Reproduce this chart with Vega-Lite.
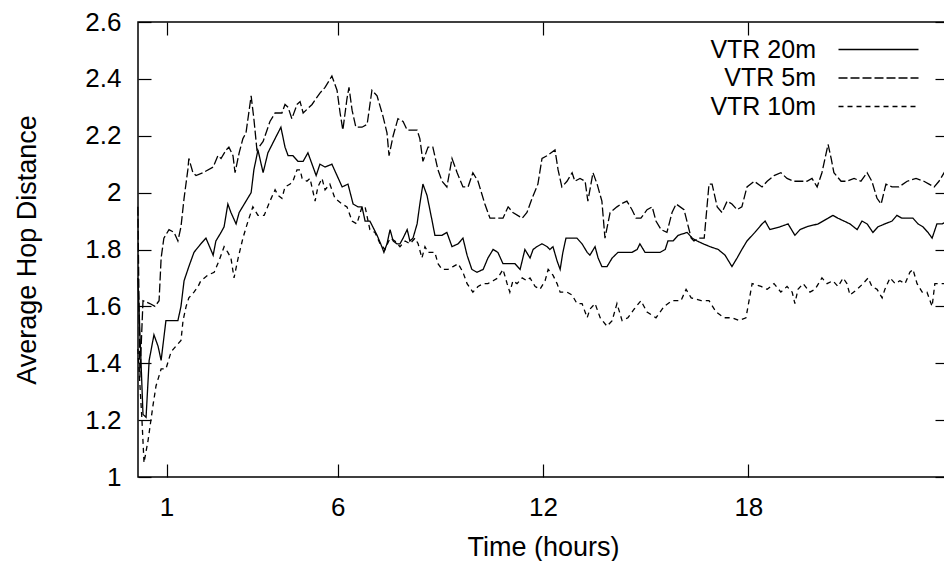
{
  "$schema": "https://vega.github.io/schema/vega-lite/v6.json",
  "autosize": "none",
  "width": 810,
  "height": 455,
  "padding": {"left": 138, "top": 22, "right": -4, "bottom": 84},
  "background": "white",
  "config": {
    "font": "Liberation Sans",
    "view": {"stroke": "#000", "strokeWidth": 1.5},
    "axis": {
      "domain": false, "grid": false, "tickColor": "#000", "tickWidth": 1.2, "tickSize": -13,
      "labelColor": "#000", "labelFontSize": 26, "labelFont": "Liberation Sans",
      "titleFont": "Liberation Sans", "titleFontSize": 27, "titleFontWeight": "normal", "titleColor": "#000"
    },
    "legend": {
      "orient": "none", "legendX": 700, "legendY": 15, "direction": "vertical", "columns": 1,
      "padding": 0, "rowPadding": 2.5,
      "labelAlign": "right", "labelOffset": -75, "symbolOffset": 28,
      "labelFontSize": 25, "labelFont": "Liberation Sans", "labelColor": "#000", "labelLimit": 300,
      "symbolType": "M-4,0H4", "symbolSize": 400, "symbolStrokeColor": "#000", "symbolStrokeWidth": 1.3, "symbolOpacity": 1, "symbolFillColor": "transparent"
    }
  },
  "data": {"values": [
    {"s":"VTR 5m","t":0.16,"v":1.95},{"s":"VTR 5m","t":0.22,"v":1.35},{"s":"VTR 5m","t":0.31,"v":1.62},{"s":"VTR 5m","t":0.51,"v":1.61},{"s":"VTR 5m","t":0.66,"v":1.60},{"s":"VTR 5m","t":0.78,"v":1.62},{"s":"VTR 5m","t":0.84,"v":1.77},{"s":"VTR 5m","t":0.92,"v":1.84},{"s":"VTR 5m","t":1.07,"v":1.87},{"s":"VTR 5m","t":1.22,"v":1.86},{"s":"VTR 5m","t":1.33,"v":1.83},{"s":"VTR 5m","t":1.42,"v":1.88},{"s":"VTR 5m","t":1.51,"v":1.98},{"s":"VTR 5m","t":1.62,"v":2.08},{"s":"VTR 5m","t":1.65,"v":2.12},{"s":"VTR 5m","t":1.77,"v":2.07},{"s":"VTR 5m","t":1.86,"v":2.06},{"s":"VTR 5m","t":2.06,"v":2.07},{"s":"VTR 5m","t":2.36,"v":2.09},{"s":"VTR 5m","t":2.50,"v":2.13},{"s":"VTR 5m","t":2.59,"v":2.12},{"s":"VTR 5m","t":2.74,"v":2.15},{"s":"VTR 5m","t":2.82,"v":2.16},{"s":"VTR 5m","t":2.94,"v":2.13},{"s":"VTR 5m","t":3.00,"v":2.07},{"s":"VTR 5m","t":3.12,"v":2.14},{"s":"VTR 5m","t":3.23,"v":2.19},{"s":"VTR 5m","t":3.32,"v":2.21},{"s":"VTR 5m","t":3.47,"v":2.34},{"s":"VTR 5m","t":3.55,"v":2.26},{"s":"VTR 5m","t":3.64,"v":2.15},{"s":"VTR 5m","t":3.82,"v":2.18},{"s":"VTR 5m","t":4.02,"v":2.25},{"s":"VTR 5m","t":4.17,"v":2.28},{"s":"VTR 5m","t":4.37,"v":2.28},{"s":"VTR 5m","t":4.46,"v":2.31},{"s":"VTR 5m","t":4.55,"v":2.30},{"s":"VTR 5m","t":4.66,"v":2.26},{"s":"VTR 5m","t":4.81,"v":2.31},{"s":"VTR 5m","t":4.90,"v":2.32},{"s":"VTR 5m","t":4.99,"v":2.28},{"s":"VTR 5m","t":5.25,"v":2.31},{"s":"VTR 5m","t":5.48,"v":2.35},{"s":"VTR 5m","t":5.63,"v":2.37},{"s":"VTR 5m","t":5.83,"v":2.41},{"s":"VTR 5m","t":5.98,"v":2.36},{"s":"VTR 5m","t":6.07,"v":2.28},{"s":"VTR 5m","t":6.15,"v":2.22},{"s":"VTR 5m","t":6.27,"v":2.33},{"s":"VTR 5m","t":6.33,"v":2.37},{"s":"VTR 5m","t":6.42,"v":2.29},{"s":"VTR 5m","t":6.53,"v":2.23},{"s":"VTR 5m","t":6.71,"v":2.23},{"s":"VTR 5m","t":6.86,"v":2.24},{"s":"VTR 5m","t":7.00,"v":2.36},{"s":"VTR 5m","t":7.15,"v":2.34},{"s":"VTR 5m","t":7.32,"v":2.27},{"s":"VTR 5m","t":7.44,"v":2.21},{"s":"VTR 5m","t":7.50,"v":2.13},{"s":"VTR 5m","t":7.62,"v":2.20},{"s":"VTR 5m","t":7.76,"v":2.26},{"s":"VTR 5m","t":7.91,"v":2.25},{"s":"VTR 5m","t":8.03,"v":2.22},{"s":"VTR 5m","t":8.32,"v":2.22},{"s":"VTR 5m","t":8.40,"v":2.19},{"s":"VTR 5m","t":8.49,"v":2.11},{"s":"VTR 5m","t":8.64,"v":2.16},{"s":"VTR 5m","t":8.78,"v":2.16},{"s":"VTR 5m","t":8.93,"v":2.08},{"s":"VTR 5m","t":9.05,"v":2.04},{"s":"VTR 5m","t":9.19,"v":2.02},{"s":"VTR 5m","t":9.34,"v":2.12},{"s":"VTR 5m","t":9.49,"v":2.07},{"s":"VTR 5m","t":9.66,"v":2.02},{"s":"VTR 5m","t":9.81,"v":2.02},{"s":"VTR 5m","t":9.95,"v":2.07},{"s":"VTR 5m","t":10.10,"v":2.04},{"s":"VTR 5m","t":10.30,"v":1.96},{"s":"VTR 5m","t":10.45,"v":1.91},{"s":"VTR 5m","t":10.66,"v":1.91},{"s":"VTR 5m","t":10.83,"v":1.91},{"s":"VTR 5m","t":10.98,"v":1.95},{"s":"VTR 5m","t":11.12,"v":1.93},{"s":"VTR 5m","t":11.39,"v":1.91},{"s":"VTR 5m","t":11.53,"v":1.93},{"s":"VTR 5m","t":11.68,"v":1.98},{"s":"VTR 5m","t":11.85,"v":2.03},{"s":"VTR 5m","t":11.97,"v":2.12},{"s":"VTR 5m","t":12.12,"v":2.13},{"s":"VTR 5m","t":12.35,"v":2.15},{"s":"VTR 5m","t":12.44,"v":2.08},{"s":"VTR 5m","t":12.55,"v":2.02},{"s":"VTR 5m","t":12.70,"v":2.04},{"s":"VTR 5m","t":12.85,"v":2.07},{"s":"VTR 5m","t":12.93,"v":2.04},{"s":"VTR 5m","t":13.08,"v":2.05},{"s":"VTR 5m","t":13.23,"v":2.04},{"s":"VTR 5m","t":13.31,"v":1.97},{"s":"VTR 5m","t":13.46,"v":2.07},{"s":"VTR 5m","t":13.58,"v":2.03},{"s":"VTR 5m","t":13.72,"v":1.97},{"s":"VTR 5m","t":13.81,"v":1.84},{"s":"VTR 5m","t":13.96,"v":1.93},{"s":"VTR 5m","t":14.16,"v":1.95},{"s":"VTR 5m","t":14.28,"v":1.96},{"s":"VTR 5m","t":14.45,"v":1.97},{"s":"VTR 5m","t":14.60,"v":1.94},{"s":"VTR 5m","t":14.72,"v":1.91},{"s":"VTR 5m","t":14.86,"v":1.91},{"s":"VTR 5m","t":15.04,"v":1.94},{"s":"VTR 5m","t":15.19,"v":1.95},{"s":"VTR 5m","t":15.30,"v":1.90},{"s":"VTR 5m","t":15.45,"v":1.87},{"s":"VTR 5m","t":15.62,"v":1.86},{"s":"VTR 5m","t":15.77,"v":1.93},{"s":"VTR 5m","t":15.89,"v":1.96},{"s":"VTR 5m","t":16.12,"v":1.94},{"s":"VTR 5m","t":16.33,"v":1.84},{"s":"VTR 5m","t":16.41,"v":1.83},{"s":"VTR 5m","t":16.56,"v":1.84},{"s":"VTR 5m","t":16.71,"v":1.84},{"s":"VTR 5m","t":16.85,"v":2.03},{"s":"VTR 5m","t":16.94,"v":2.03},{"s":"VTR 5m","t":17.09,"v":1.95},{"s":"VTR 5m","t":17.23,"v":1.93},{"s":"VTR 5m","t":17.38,"v":1.97},{"s":"VTR 5m","t":17.52,"v":1.96},{"s":"VTR 5m","t":17.67,"v":1.94},{"s":"VTR 5m","t":17.81,"v":1.95},{"s":"VTR 5m","t":17.96,"v":2.02},{"s":"VTR 5m","t":18.17,"v":2.04},{"s":"VTR 5m","t":18.40,"v":2.02},{"s":"VTR 5m","t":18.55,"v":2.04},{"s":"VTR 5m","t":18.75,"v":2.06},{"s":"VTR 5m","t":18.95,"v":2.07},{"s":"VTR 5m","t":19.13,"v":2.05},{"s":"VTR 5m","t":19.33,"v":2.04},{"s":"VTR 5m","t":19.54,"v":2.04},{"s":"VTR 5m","t":19.71,"v":2.04},{"s":"VTR 5m","t":19.86,"v":2.05},{"s":"VTR 5m","t":20.01,"v":2.02},{"s":"VTR 5m","t":20.15,"v":2.07},{"s":"VTR 5m","t":20.33,"v":2.17},{"s":"VTR 5m","t":20.42,"v":2.12},{"s":"VTR 5m","t":20.50,"v":2.07},{"s":"VTR 5m","t":20.71,"v":2.04},{"s":"VTR 5m","t":20.88,"v":2.04},{"s":"VTR 5m","t":21.09,"v":2.05},{"s":"VTR 5m","t":21.29,"v":2.04},{"s":"VTR 5m","t":21.47,"v":2.07},{"s":"VTR 5m","t":21.61,"v":2.04},{"s":"VTR 5m","t":21.76,"v":1.98},{"s":"VTR 5m","t":21.88,"v":1.96},{"s":"VTR 5m","t":22.02,"v":2.03},{"s":"VTR 5m","t":22.20,"v":2.02},{"s":"VTR 5m","t":22.40,"v":2.02},{"s":"VTR 5m","t":22.64,"v":2.04},{"s":"VTR 5m","t":22.90,"v":2.05},{"s":"VTR 5m","t":23.13,"v":2.04},{"s":"VTR 5m","t":23.28,"v":2.03},{"s":"VTR 5m","t":23.43,"v":2.02},{"s":"VTR 5m","t":23.57,"v":2.04},{"s":"VTR 5m","t":23.72,"v":2.07},{"s":"VTR 5m","t":23.83,"v":2.06},
    {"s":"VTR 20m","t":0.16,"v":1.70},{"s":"VTR 20m","t":0.31,"v":1.22},{"s":"VTR 20m","t":0.40,"v":1.21},{"s":"VTR 20m","t":0.49,"v":1.41},{"s":"VTR 20m","t":0.63,"v":1.50},{"s":"VTR 20m","t":0.75,"v":1.46},{"s":"VTR 20m","t":0.84,"v":1.41},{"s":"VTR 20m","t":0.98,"v":1.55},{"s":"VTR 20m","t":1.33,"v":1.55},{"s":"VTR 20m","t":1.42,"v":1.60},{"s":"VTR 20m","t":1.51,"v":1.69},{"s":"VTR 20m","t":1.65,"v":1.74},{"s":"VTR 20m","t":1.80,"v":1.79},{"s":"VTR 20m","t":2.00,"v":1.82},{"s":"VTR 20m","t":2.15,"v":1.84},{"s":"VTR 20m","t":2.36,"v":1.78},{"s":"VTR 20m","t":2.44,"v":1.83},{"s":"VTR 20m","t":2.59,"v":1.86},{"s":"VTR 20m","t":2.68,"v":1.88},{"s":"VTR 20m","t":2.79,"v":1.96},{"s":"VTR 20m","t":2.88,"v":1.93},{"s":"VTR 20m","t":3.03,"v":1.89},{"s":"VTR 20m","t":3.12,"v":1.93},{"s":"VTR 20m","t":3.32,"v":1.97},{"s":"VTR 20m","t":3.47,"v":2.00},{"s":"VTR 20m","t":3.55,"v":2.08},{"s":"VTR 20m","t":3.67,"v":2.15},{"s":"VTR 20m","t":3.82,"v":2.07},{"s":"VTR 20m","t":3.96,"v":2.14},{"s":"VTR 20m","t":4.17,"v":2.19},{"s":"VTR 20m","t":4.34,"v":2.23},{"s":"VTR 20m","t":4.46,"v":2.16},{"s":"VTR 20m","t":4.55,"v":2.13},{"s":"VTR 20m","t":4.69,"v":2.13},{"s":"VTR 20m","t":4.84,"v":2.11},{"s":"VTR 20m","t":4.99,"v":2.11},{"s":"VTR 20m","t":5.13,"v":2.14},{"s":"VTR 20m","t":5.25,"v":2.10},{"s":"VTR 20m","t":5.37,"v":2.06},{"s":"VTR 20m","t":5.48,"v":2.10},{"s":"VTR 20m","t":5.63,"v":2.09},{"s":"VTR 20m","t":5.83,"v":2.10},{"s":"VTR 20m","t":5.98,"v":2.06},{"s":"VTR 20m","t":6.13,"v":2.02},{"s":"VTR 20m","t":6.30,"v":2.03},{"s":"VTR 20m","t":6.45,"v":1.96},{"s":"VTR 20m","t":6.59,"v":1.95},{"s":"VTR 20m","t":6.71,"v":1.95},{"s":"VTR 20m","t":6.80,"v":1.90},{"s":"VTR 20m","t":6.94,"v":1.90},{"s":"VTR 20m","t":7.15,"v":1.85},{"s":"VTR 20m","t":7.29,"v":1.81},{"s":"VTR 20m","t":7.35,"v":1.79},{"s":"VTR 20m","t":7.44,"v":1.82},{"s":"VTR 20m","t":7.53,"v":1.87},{"s":"VTR 20m","t":7.62,"v":1.83},{"s":"VTR 20m","t":7.73,"v":1.82},{"s":"VTR 20m","t":7.82,"v":1.82},{"s":"VTR 20m","t":7.91,"v":1.84},{"s":"VTR 20m","t":8.03,"v":1.87},{"s":"VTR 20m","t":8.11,"v":1.83},{"s":"VTR 20m","t":8.20,"v":1.84},{"s":"VTR 20m","t":8.32,"v":1.89},{"s":"VTR 20m","t":8.40,"v":1.96},{"s":"VTR 20m","t":8.49,"v":2.03},{"s":"VTR 20m","t":8.61,"v":1.99},{"s":"VTR 20m","t":8.76,"v":1.90},{"s":"VTR 20m","t":8.84,"v":1.85},{"s":"VTR 20m","t":9.05,"v":1.85},{"s":"VTR 20m","t":9.19,"v":1.86},{"s":"VTR 20m","t":9.34,"v":1.81},{"s":"VTR 20m","t":9.52,"v":1.82},{"s":"VTR 20m","t":9.66,"v":1.84},{"s":"VTR 20m","t":9.78,"v":1.78},{"s":"VTR 20m","t":9.92,"v":1.73},{"s":"VTR 20m","t":10.07,"v":1.72},{"s":"VTR 20m","t":10.25,"v":1.73},{"s":"VTR 20m","t":10.39,"v":1.77},{"s":"VTR 20m","t":10.54,"v":1.80},{"s":"VTR 20m","t":10.68,"v":1.79},{"s":"VTR 20m","t":10.83,"v":1.75},{"s":"VTR 20m","t":11.18,"v":1.75},{"s":"VTR 20m","t":11.33,"v":1.73},{"s":"VTR 20m","t":11.47,"v":1.80},{"s":"VTR 20m","t":11.62,"v":1.77},{"s":"VTR 20m","t":11.71,"v":1.80},{"s":"VTR 20m","t":11.82,"v":1.81},{"s":"VTR 20m","t":11.97,"v":1.82},{"s":"VTR 20m","t":12.12,"v":1.81},{"s":"VTR 20m","t":12.20,"v":1.80},{"s":"VTR 20m","t":12.29,"v":1.81},{"s":"VTR 20m","t":12.41,"v":1.76},{"s":"VTR 20m","t":12.50,"v":1.73},{"s":"VTR 20m","t":12.58,"v":1.79},{"s":"VTR 20m","t":12.67,"v":1.84},{"s":"VTR 20m","t":12.99,"v":1.84},{"s":"VTR 20m","t":13.14,"v":1.82},{"s":"VTR 20m","t":13.29,"v":1.79},{"s":"VTR 20m","t":13.37,"v":1.78},{"s":"VTR 20m","t":13.52,"v":1.81},{"s":"VTR 20m","t":13.61,"v":1.77},{"s":"VTR 20m","t":13.72,"v":1.74},{"s":"VTR 20m","t":13.87,"v":1.74},{"s":"VTR 20m","t":14.02,"v":1.77},{"s":"VTR 20m","t":14.19,"v":1.79},{"s":"VTR 20m","t":14.60,"v":1.79},{"s":"VTR 20m","t":14.75,"v":1.80},{"s":"VTR 20m","t":14.83,"v":1.82},{"s":"VTR 20m","t":14.98,"v":1.79},{"s":"VTR 20m","t":15.42,"v":1.79},{"s":"VTR 20m","t":15.57,"v":1.80},{"s":"VTR 20m","t":15.65,"v":1.83},{"s":"VTR 20m","t":15.80,"v":1.83},{"s":"VTR 20m","t":15.95,"v":1.85},{"s":"VTR 20m","t":16.21,"v":1.86},{"s":"VTR 20m","t":16.36,"v":1.84},{"s":"VTR 20m","t":16.50,"v":1.83},{"s":"VTR 20m","t":16.68,"v":1.82},{"s":"VTR 20m","t":16.88,"v":1.81},{"s":"VTR 20m","t":17.12,"v":1.80},{"s":"VTR 20m","t":17.32,"v":1.78},{"s":"VTR 20m","t":17.52,"v":1.74},{"s":"VTR 20m","t":17.67,"v":1.77},{"s":"VTR 20m","t":17.81,"v":1.80},{"s":"VTR 20m","t":17.96,"v":1.83},{"s":"VTR 20m","t":18.19,"v":1.86},{"s":"VTR 20m","t":18.40,"v":1.89},{"s":"VTR 20m","t":18.49,"v":1.90},{"s":"VTR 20m","t":18.63,"v":1.87},{"s":"VTR 20m","t":18.93,"v":1.88},{"s":"VTR 20m","t":19.16,"v":1.89},{"s":"VTR 20m","t":19.36,"v":1.85},{"s":"VTR 20m","t":19.51,"v":1.87},{"s":"VTR 20m","t":19.71,"v":1.88},{"s":"VTR 20m","t":20.04,"v":1.89},{"s":"VTR 20m","t":20.33,"v":1.91},{"s":"VTR 20m","t":20.47,"v":1.92},{"s":"VTR 20m","t":20.62,"v":1.91},{"s":"VTR 20m","t":20.97,"v":1.89},{"s":"VTR 20m","t":21.18,"v":1.87},{"s":"VTR 20m","t":21.32,"v":1.90},{"s":"VTR 20m","t":21.47,"v":1.89},{"s":"VTR 20m","t":21.64,"v":1.86},{"s":"VTR 20m","t":21.79,"v":1.88},{"s":"VTR 20m","t":21.99,"v":1.89},{"s":"VTR 20m","t":22.20,"v":1.90},{"s":"VTR 20m","t":22.34,"v":1.92},{"s":"VTR 20m","t":22.49,"v":1.91},{"s":"VTR 20m","t":22.81,"v":1.91},{"s":"VTR 20m","t":22.96,"v":1.89},{"s":"VTR 20m","t":23.10,"v":1.88},{"s":"VTR 20m","t":23.25,"v":1.86},{"s":"VTR 20m","t":23.37,"v":1.84},{"s":"VTR 20m","t":23.51,"v":1.89},{"s":"VTR 20m","t":23.66,"v":1.89},{"s":"VTR 20m","t":23.83,"v":1.90},
    {"s":"VTR 10m","t":0.16,"v":1.45},{"s":"VTR 10m","t":0.28,"v":1.20},{"s":"VTR 10m","t":0.34,"v":1.05},{"s":"VTR 10m","t":0.46,"v":1.13},{"s":"VTR 10m","t":0.60,"v":1.25},{"s":"VTR 10m","t":0.69,"v":1.32},{"s":"VTR 10m","t":0.84,"v":1.38},{"s":"VTR 10m","t":0.98,"v":1.38},{"s":"VTR 10m","t":1.13,"v":1.44},{"s":"VTR 10m","t":1.27,"v":1.46},{"s":"VTR 10m","t":1.42,"v":1.48},{"s":"VTR 10m","t":1.48,"v":1.55},{"s":"VTR 10m","t":1.57,"v":1.60},{"s":"VTR 10m","t":1.65,"v":1.63},{"s":"VTR 10m","t":1.80,"v":1.65},{"s":"VTR 10m","t":1.92,"v":1.67},{"s":"VTR 10m","t":2.00,"v":1.69},{"s":"VTR 10m","t":2.21,"v":1.71},{"s":"VTR 10m","t":2.39,"v":1.72},{"s":"VTR 10m","t":2.53,"v":1.76},{"s":"VTR 10m","t":2.68,"v":1.81},{"s":"VTR 10m","t":2.79,"v":1.79},{"s":"VTR 10m","t":2.88,"v":1.77},{"s":"VTR 10m","t":2.97,"v":1.70},{"s":"VTR 10m","t":3.09,"v":1.77},{"s":"VTR 10m","t":3.23,"v":1.84},{"s":"VTR 10m","t":3.38,"v":1.90},{"s":"VTR 10m","t":3.52,"v":1.95},{"s":"VTR 10m","t":3.67,"v":1.92},{"s":"VTR 10m","t":3.85,"v":1.92},{"s":"VTR 10m","t":4.02,"v":1.97},{"s":"VTR 10m","t":4.17,"v":2.01},{"s":"VTR 10m","t":4.26,"v":1.99},{"s":"VTR 10m","t":4.37,"v":1.98},{"s":"VTR 10m","t":4.46,"v":2.02},{"s":"VTR 10m","t":4.61,"v":2.03},{"s":"VTR 10m","t":4.69,"v":2.04},{"s":"VTR 10m","t":4.81,"v":2.08},{"s":"VTR 10m","t":4.90,"v":2.08},{"s":"VTR 10m","t":4.96,"v":2.05},{"s":"VTR 10m","t":5.10,"v":2.04},{"s":"VTR 10m","t":5.19,"v":2.05},{"s":"VTR 10m","t":5.34,"v":1.97},{"s":"VTR 10m","t":5.42,"v":2.02},{"s":"VTR 10m","t":5.54,"v":2.05},{"s":"VTR 10m","t":5.63,"v":2.01},{"s":"VTR 10m","t":5.77,"v":2.03},{"s":"VTR 10m","t":5.92,"v":1.98},{"s":"VTR 10m","t":6.13,"v":1.96},{"s":"VTR 10m","t":6.27,"v":1.95},{"s":"VTR 10m","t":6.42,"v":1.90},{"s":"VTR 10m","t":6.56,"v":1.89},{"s":"VTR 10m","t":6.71,"v":1.95},{"s":"VTR 10m","t":6.80,"v":1.95},{"s":"VTR 10m","t":6.94,"v":1.87},{"s":"VTR 10m","t":7.09,"v":1.86},{"s":"VTR 10m","t":7.24,"v":1.82},{"s":"VTR 10m","t":7.38,"v":1.80},{"s":"VTR 10m","t":7.53,"v":1.84},{"s":"VTR 10m","t":7.67,"v":1.83},{"s":"VTR 10m","t":7.82,"v":1.81},{"s":"VTR 10m","t":7.97,"v":1.83},{"s":"VTR 10m","t":8.11,"v":1.82},{"s":"VTR 10m","t":8.26,"v":1.84},{"s":"VTR 10m","t":8.35,"v":1.82},{"s":"VTR 10m","t":8.46,"v":1.77},{"s":"VTR 10m","t":8.55,"v":1.81},{"s":"VTR 10m","t":8.64,"v":1.79},{"s":"VTR 10m","t":8.84,"v":1.79},{"s":"VTR 10m","t":8.93,"v":1.75},{"s":"VTR 10m","t":9.05,"v":1.73},{"s":"VTR 10m","t":9.22,"v":1.73},{"s":"VTR 10m","t":9.37,"v":1.74},{"s":"VTR 10m","t":9.52,"v":1.75},{"s":"VTR 10m","t":9.66,"v":1.72},{"s":"VTR 10m","t":9.78,"v":1.68},{"s":"VTR 10m","t":9.95,"v":1.65},{"s":"VTR 10m","t":10.10,"v":1.67},{"s":"VTR 10m","t":10.25,"v":1.68},{"s":"VTR 10m","t":10.39,"v":1.68},{"s":"VTR 10m","t":10.54,"v":1.69},{"s":"VTR 10m","t":10.68,"v":1.70},{"s":"VTR 10m","t":10.83,"v":1.73},{"s":"VTR 10m","t":10.95,"v":1.68},{"s":"VTR 10m","t":11.03,"v":1.65},{"s":"VTR 10m","t":11.12,"v":1.69},{"s":"VTR 10m","t":11.24,"v":1.68},{"s":"VTR 10m","t":11.39,"v":1.70},{"s":"VTR 10m","t":11.53,"v":1.69},{"s":"VTR 10m","t":11.62,"v":1.70},{"s":"VTR 10m","t":11.77,"v":1.67},{"s":"VTR 10m","t":11.91,"v":1.66},{"s":"VTR 10m","t":12.06,"v":1.69},{"s":"VTR 10m","t":12.15,"v":1.73},{"s":"VTR 10m","t":12.29,"v":1.71},{"s":"VTR 10m","t":12.41,"v":1.68},{"s":"VTR 10m","t":12.50,"v":1.65},{"s":"VTR 10m","t":12.70,"v":1.65},{"s":"VTR 10m","t":12.85,"v":1.64},{"s":"VTR 10m","t":12.99,"v":1.61},{"s":"VTR 10m","t":13.14,"v":1.61},{"s":"VTR 10m","t":13.29,"v":1.56},{"s":"VTR 10m","t":13.37,"v":1.59},{"s":"VTR 10m","t":13.52,"v":1.61},{"s":"VTR 10m","t":13.67,"v":1.56},{"s":"VTR 10m","t":13.87,"v":1.53},{"s":"VTR 10m","t":14.02,"v":1.55},{"s":"VTR 10m","t":14.16,"v":1.61},{"s":"VTR 10m","t":14.31,"v":1.55},{"s":"VTR 10m","t":14.48,"v":1.56},{"s":"VTR 10m","t":14.66,"v":1.59},{"s":"VTR 10m","t":14.86,"v":1.62},{"s":"VTR 10m","t":15.04,"v":1.58},{"s":"VTR 10m","t":15.30,"v":1.56},{"s":"VTR 10m","t":15.54,"v":1.60},{"s":"VTR 10m","t":15.77,"v":1.62},{"s":"VTR 10m","t":16.03,"v":1.62},{"s":"VTR 10m","t":16.18,"v":1.66},{"s":"VTR 10m","t":16.33,"v":1.63},{"s":"VTR 10m","t":16.62,"v":1.62},{"s":"VTR 10m","t":16.85,"v":1.62},{"s":"VTR 10m","t":17.06,"v":1.58},{"s":"VTR 10m","t":17.29,"v":1.56},{"s":"VTR 10m","t":17.52,"v":1.56},{"s":"VTR 10m","t":17.73,"v":1.55},{"s":"VTR 10m","t":17.93,"v":1.56},{"s":"VTR 10m","t":18.02,"v":1.62},{"s":"VTR 10m","t":18.11,"v":1.68},{"s":"VTR 10m","t":18.37,"v":1.67},{"s":"VTR 10m","t":18.55,"v":1.66},{"s":"VTR 10m","t":18.75,"v":1.68},{"s":"VTR 10m","t":18.95,"v":1.65},{"s":"VTR 10m","t":19.13,"v":1.67},{"s":"VTR 10m","t":19.28,"v":1.65},{"s":"VTR 10m","t":19.36,"v":1.61},{"s":"VTR 10m","t":19.45,"v":1.66},{"s":"VTR 10m","t":19.60,"v":1.68},{"s":"VTR 10m","t":19.80,"v":1.65},{"s":"VTR 10m","t":19.95,"v":1.66},{"s":"VTR 10m","t":20.15,"v":1.70},{"s":"VTR 10m","t":20.30,"v":1.68},{"s":"VTR 10m","t":20.47,"v":1.69},{"s":"VTR 10m","t":20.62,"v":1.67},{"s":"VTR 10m","t":20.77,"v":1.70},{"s":"VTR 10m","t":20.88,"v":1.68},{"s":"VTR 10m","t":20.97,"v":1.64},{"s":"VTR 10m","t":21.18,"v":1.66},{"s":"VTR 10m","t":21.35,"v":1.68},{"s":"VTR 10m","t":21.50,"v":1.70},{"s":"VTR 10m","t":21.61,"v":1.67},{"s":"VTR 10m","t":21.76,"v":1.66},{"s":"VTR 10m","t":21.91,"v":1.63},{"s":"VTR 10m","t":21.99,"v":1.66},{"s":"VTR 10m","t":22.14,"v":1.70},{"s":"VTR 10m","t":22.29,"v":1.68},{"s":"VTR 10m","t":22.43,"v":1.69},{"s":"VTR 10m","t":22.58,"v":1.68},{"s":"VTR 10m","t":22.72,"v":1.72},{"s":"VTR 10m","t":22.81,"v":1.73},{"s":"VTR 10m","t":22.93,"v":1.68},{"s":"VTR 10m","t":23.08,"v":1.65},{"s":"VTR 10m","t":23.22,"v":1.65},{"s":"VTR 10m","t":23.37,"v":1.60},{"s":"VTR 10m","t":23.45,"v":1.68},{"s":"VTR 10m","t":23.60,"v":1.68},{"s":"VTR 10m","t":23.83,"v":1.68}
  ]},
  "layer": [
    {
      "mark": {"type": "line", "color": "#000", "strokeWidth": 1.3},
      "encoding": {
        "x": {"field": "t", "type": "quantitative", "scale": {"domain": [0.164, 23.834], "nice": false, "zero": false},
              "axis": {"values": [1, 6, 12, 18], "title": "Time (hours)", "labelPadding": 30, "titlePadding": 14}},
        "y": {"field": "v", "type": "quantitative", "scale": {"domain": [1, 2.6], "nice": false, "zero": false},
              "axis": {"values": [1, 1.2, 1.4, 1.6, 1.8, 2, 2.2, 2.4, 2.6], "format": "~f", "title": "Average Hop Distance", "labelPadding": 30, "titlePadding": 43}},
        "strokeDash": {"field": "s", "type": "nominal", "title": null,
                       "scale": {"domain": ["VTR 20m", "VTR 5m", "VTR 10m"], "range": [[1, 0], [9, 3], [5, 4]]},
                       "legend": {"encode": {"symbols": {"update": {"opacity": {"value": 1}, "stroke": {"value": "#000"}, "strokeWidth": {"value": 1.3}}}}}}
      }
    },
    {
      "mark": {"type": "point", "opacity": 0},
      "encoding": {
        "x": {"field": "t", "type": "quantitative", "scale": {"domain": [0.164, 23.834], "nice": false, "zero": false},
              "axis": {"orient": "top", "values": [1, 6, 12, 18], "labels": false, "title": null}},
        "y": {"field": "v", "type": "quantitative", "scale": {"domain": [1, 2.6], "nice": false, "zero": false},
              "axis": {"orient": "right", "values": [1, 1.2, 1.4, 1.6, 1.8, 2, 2.2, 2.4, 2.6], "labels": false, "title": null}}
      }
    }
  ],
  "resolve": {"axis": {"x": "independent", "y": "independent"}}
}
